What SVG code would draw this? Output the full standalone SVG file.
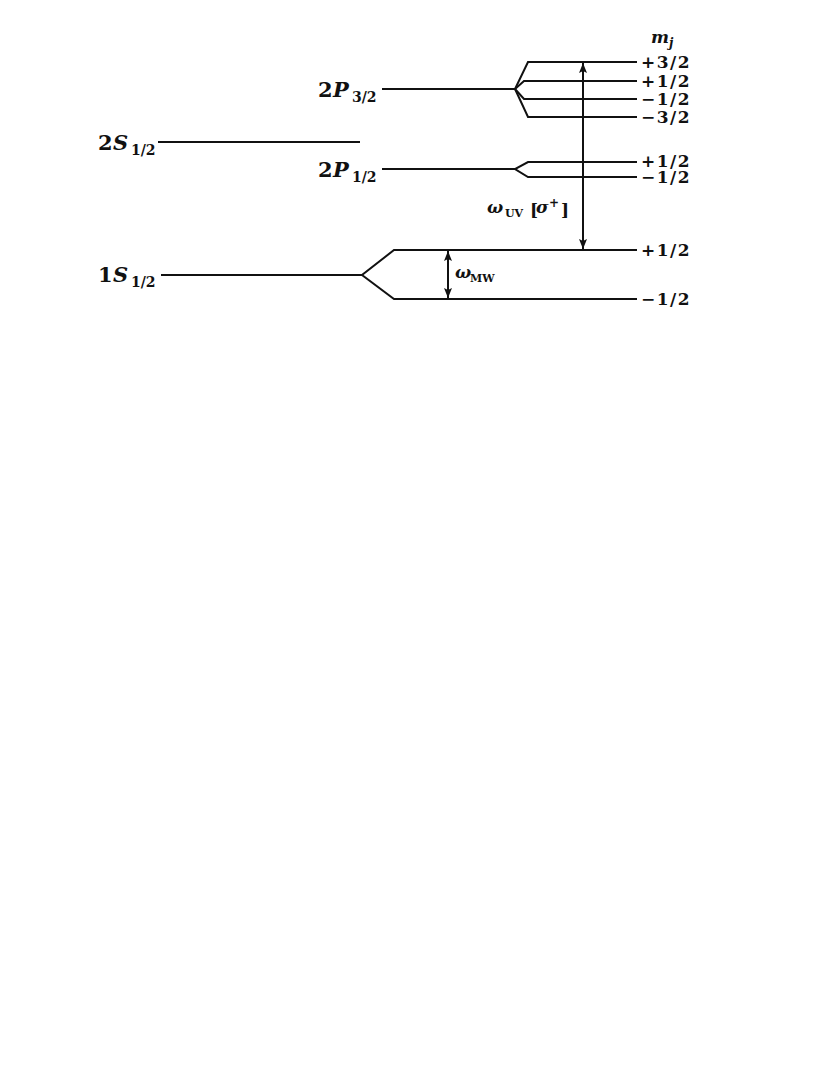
<svg xmlns="http://www.w3.org/2000/svg" width="830" height="1075" viewBox="0 0 830 1075">
<defs>
<marker id="ah" viewBox="0 0 10 8" refX="10" refY="4" markerWidth="10" markerHeight="8" markerUnits="userSpaceOnUse" orient="auto-start-reverse">
<path d="M0,0 L10,4 L0,8 L2,4 Z" fill="#111"/>
</marker>
</defs>
<style>
.lv{stroke:#111;stroke-width:2;fill:none;stroke-linejoin:miter}
.ar{stroke:#111;stroke-width:2;fill:none}
.t{font-family:"DejaVu Serif","Liberation Serif",serif;font-weight:bold;fill:#111}
.big{font-size:21px}
.sub{font-size:14px}
.mj{font-size:17px;letter-spacing:1.5px}
.i{font-style:italic}
</style>
<rect width="830" height="1075" fill="#fff"/>
<g id="level-2S12">
<line class="lv" x1="158" y1="142" x2="360" y2="142"/>
<text class="t big" x="98" y="150">2</text>
<text class="t big i" x="113" y="150">S</text>
<text class="t sub" x="131" y="155">1/2</text>
</g>
<g id="level-2P32">
<polyline class="lv" points="382,89 515,89"/>
<polyline class="lv" points="637,62 528,62 515,89 528,117 637,117"/>
<polyline class="lv" points="637,81 524,81 515,89 524,99 637,99"/>
<text class="t big" x="318" y="97">2</text>
<text class="t big i" x="333" y="97">P</text>
<text class="t sub" x="352" y="102">3/2</text>
<text class="t mj" x="641" y="68">+3/2</text>
<text class="t mj" x="641" y="87">+1/2</text>
<text class="t mj" x="641" y="105">−1/2</text>
<text class="t mj" x="641" y="123">−3/2</text>
</g>
<g id="level-2P12">
<polyline class="lv" points="382,169 515,169"/>
<polyline class="lv" points="637,162 528,162 515,169 528,177 637,177"/>
<text class="t big" x="318" y="177">2</text>
<text class="t big i" x="333" y="177">P</text>
<text class="t sub" x="352" y="182">1/2</text>
<text class="t mj" x="641" y="167">+1/2</text>
<text class="t mj" x="641" y="183">−1/2</text>
</g>
<g id="level-1S12">
<polyline class="lv" points="161,275 362,275"/>
<polyline class="lv" points="637,250 394,250 362,275 394,299 637,299"/>
<text class="t big" x="98" y="282">1</text>
<text class="t big i" x="113" y="282">S</text>
<text class="t sub" x="131" y="287">1/2</text>
<text class="t mj" x="641" y="256">+1/2</text>
<text class="t mj" x="641" y="305">−1/2</text>
</g>
<g id="header-mj">
<text class="t i" x="651" y="43" font-size="17">m</text>
<text class="t i" x="669" y="47" font-size="12">j</text>
</g>
<g id="connectors">
<line class="ar" x1="583" y1="63" x2="583" y2="249" marker-start="url(#ah)" marker-end="url(#ah)"/>
<line class="ar" x1="448" y1="251" x2="448" y2="298" marker-start="url(#ah)" marker-end="url(#ah)"/>
</g>
<g id="label-uv">
<text class="t i" x="487" y="213" font-size="17">ω</text>
<text class="t" x="505" y="217" font-size="11" font-weight="normal">UV</text>
<text class="t" x="530" y="216" font-size="17" font-weight="normal">[</text>
<text class="t i" x="536" y="213" font-size="17">σ</text>
<text class="t" x="549" y="207" font-size="12" font-weight="normal">+</text>
<text class="t" x="561" y="216" font-size="17" font-weight="normal">]</text>
</g>
<g id="label-mw">
<text class="t i" x="455" y="278" font-size="17">ω</text>
<text class="t" x="470" y="282" font-size="11" font-weight="normal">MW</text>
</g>
</svg>
